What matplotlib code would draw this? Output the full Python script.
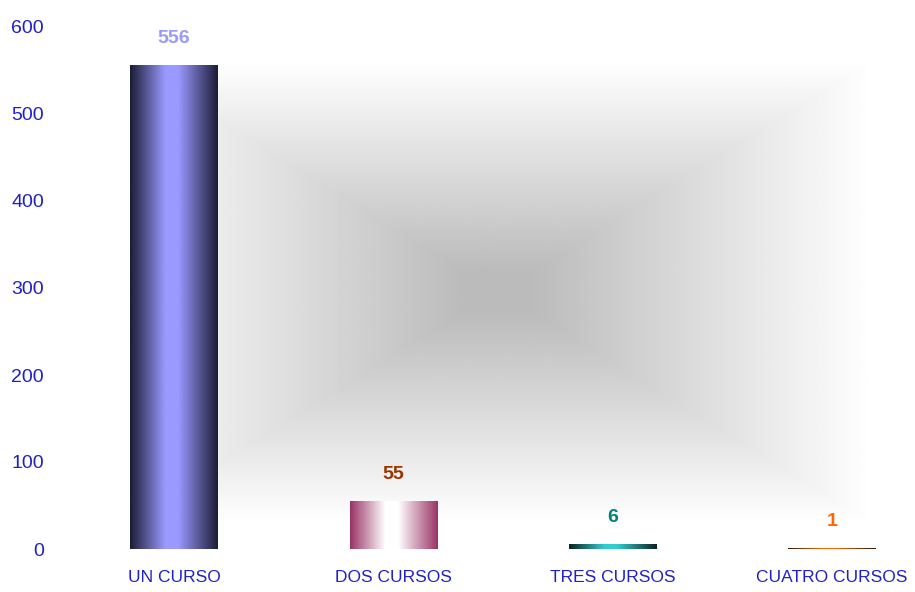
import numpy as np
import matplotlib
matplotlib.use("Agg")
import matplotlib.pyplot as plt
from matplotlib.colors import LinearSegmentedColormap

categories = ["UN CURSO", "DOS CURSOS", "TRES CURSOS", "CUATRO CURSOS"]
values = [556, 55, 6, 1]
y_ticks = [0, 100, 200, 300, 400, 500, 600]

# edge colour, centre colour, label colour for each bar
bar_edge = ["#1c1c36", "#993366", "#0c2222", "#2a1a10"]
bar_mid = ["#9999ff", "#ffffff", "#33cccc", "#ff6600"]
label_colors = ["#9999ff", "#993300", "#008080", "#ff6600"]

plt.rcParams['font.family'] = ['Liberation Sans Narrow', 'Liberation Sans', 'DejaVu Sans']

fig = plt.figure(figsize=(9.15, 5.92), dpi=100)
ax = fig.add_axes([80 / 915, 43 / 592, 835 / 915, 522 / 592])

xlim = (-0.4286, 3.378)
ylim = (0, 600)

# rectangular gray-to-white background gradient
W, H = 600, 400
u = np.abs(np.linspace(-1, 1, W))[None, :]
v = np.abs(np.linspace(-1, 1, H))[:, None]
t = np.maximum(u, v)
f = np.clip((t - 0.08) / 0.82, 0, 1)
bg = (187 + 68 * f) / 255.0
ax.imshow(bg, cmap="gray", vmin=0, vmax=1, extent=(xlim[0], xlim[1], 0, 590),
          aspect="auto", zorder=0, interpolation="bilinear")

x = np.arange(len(categories))
bars = ax.bar(x, values, width=0.4, color=bar_edge, edgecolor="none", zorder=2)

for b, e, m in zip(bars, bar_edge, bar_mid):
    cmap = LinearSegmentedColormap.from_list("g", [(0, e), (0.40, m), (0.55, m), (1, e)])
    grad = np.linspace(0, 1, 256)[None, :]
    bx, by = b.get_x(), b.get_y()
    im = ax.imshow(grad, cmap=cmap, aspect="auto", zorder=3,
                   extent=(bx, bx + b.get_width(), by, by + b.get_height()))
    im.set_clip_path(b)

for xi, val, c in zip(x, values, label_colors):
    ax.annotate(str(val), (xi, val), xytext=(0, 13), textcoords="offset points",
                ha="center", va="bottom", fontsize=14, fontweight="bold", color=c)

ax.set_xlim(*xlim)
ax.set_ylim(*ylim)
ax.set_yticks(y_ticks)
ax.set_yticklabels([str(y) for y in y_ticks], fontsize=14, color="#2020c8")
ax.set_xticks(x)
ax.set_xticklabels(categories, fontsize=12.5, color="#2020c8")
ax.tick_params(axis="y", length=0, pad=26)
ax.tick_params(axis="x", length=0, pad=15)
for s in ax.spines.values():
    s.set_visible(False)

fig.savefig("out.png", dpi=100)
